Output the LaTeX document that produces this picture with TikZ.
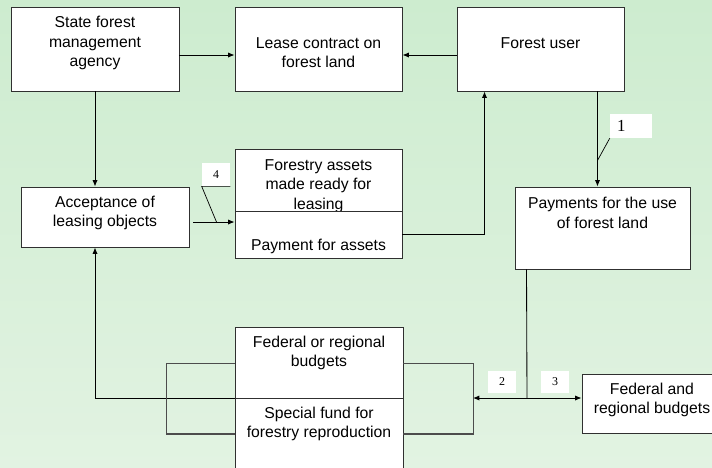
\documentclass[tikz,border=0pt]{standalone}
\usepackage{fontspec}
\setmainfont{Liberation Sans}
\newfontfamily\numfont{Liberation Serif}
\usepackage{tikz}
\usetikzlibrary{arrows.meta, calc, fit}

\definecolor{bgtop}{HTML}{CDECCF}
\definecolor{bgmid}{HTML}{F6FBF6}
\definecolor{bgbot}{HTML}{E2F3E2}
\definecolor{edge}{HTML}{303030}

\begin{document}
\begin{tikzpicture}[
    x=0.025cm, y=-0.025cm,
    block/.style = {draw=edge, line width=0.7pt, fill=white, inner sep=0pt},
    txt/.style = {align=center, inner sep=0pt, font=\fontsize{11.2}{13.8}\selectfont},
    line/.style = {line width=0.6pt},
    arrow/.style = {line, -{Latex[length=1.6mm, width=1.3mm]}},
    twoway/.style = {line, {Latex[length=1.6mm, width=1.3mm]}-{Latex[length=1.6mm, width=1.3mm]}},
    bracket/.style = {draw=black!70, line width=1pt},
    numbox/.style = {fill=white, inner sep=0pt, font=\numfont\fontsize{8.5}{9}\selectfont}
  ]

  \useasboundingbox (0,0) rectangle (712,468);
  \shade[top color=bgtop, middle color=bgmid, bottom color=bgbot] (0,0) rectangle (712,468);

  % Nodes
  \node[block, fit={(11,7) (179,91)}] (agency) {};
  \node[txt] (agencytxt) at (95,43) {State forest\\management\\agency};

  \node[block, fit={(235,7) (402,91)}] (lease) {};
  \node[txt] (leasetxt) at (318.5,52.5) {Lease contract on\\forest land};

  \node[block, fit={(457,7) (624,91)}] (user) {};
  \node[txt] (usertxt) at (540.5,43) {Forest user};

  \node[block, fit={(21,187) (189,247)}] (accept) {};
  \node[txt] (accepttxt) at (105,213) {Acceptance of\\leasing objects};

  \node[block, fit={(235,149) (402,220)}] (assets) {};
  \node[txt] (assetstxt) at (318.5,186) {Forestry assets\\made ready for\\leasing};

  \node[block, fit={(235,211) (402,258)}] (pay) {};
  \node[txt] (paytxt) at (318.5,246) {Payment for assets};

  \node[block, fit={(515,187) (690,269)}] (payuse) {};
  \node[txt] (payusetxt) at (602.5,213) {Payments for the use\\of forest land};

  \node[block, fit={(235,327) (403,398)}] (fedor) {};
  \node[txt] (fedortxt) at (319,353) {Federal or regional\\budgets};

  \node[block, fit={(235,398) (403,480)}] (fund) {};
  \node[txt] (fundtxt) at (319,424) {Special fund for\\forestry reproduction};

  \node[block, fit={(582,374) (730,433)}] (fedreg) {};
  \node[txt] (fedregtxt) at (652,400) {Federal and\\regional budgets};

  % Number labels
  \node[numbox, minimum width=1.05cm, minimum height=0.6cm, text width=0.7cm, align=left, font=\numfont\fontsize{12}{13}\selectfont] (n1) at (631,126) {1};
  \node[numbox, minimum width=0.7cm, minimum height=0.58cm] (n4) at (216,174.5) {4};
  \node[numbox, minimum width=0.7cm, minimum height=0.55cm] (n2) at (502,382) {2};
  \node[numbox, minimum width=0.7cm, minimum height=0.55cm] (n3) at (555,382) {3};

  \coordinate (fork) at (527,398);
  \coordinate (rbrk) at (473,398);

  % Connectors
  \draw[arrow] ($(agency.east)+(0,6)$) -- ($(lease.west)+(0,6)$);
  \draw[arrow] ($(user.west)+(0,6)$) -- ($(lease.east)+(0,6)$);
  \draw[arrow] (agency.south) -- (agency.south |- accept.north);
  \draw[arrow] ($(accept.east)+(4,5)$) coordinate (a4) -- (a4 -| pay.west);
  \draw[arrow] ($(pay.east)+(0,-0.5)$) -| ($(user.south west)+(28,0)$);
  \draw[arrow] ($(user.south east)+(-27,0)$) coordinate (d1) -- (d1 |- payuse.north);
  \draw[line] ($(payuse.south west)+(12,0)$) -- (fork);
  \draw[twoway] (rbrk) -- (fedreg.west |- fork);
  \draw[arrow] (fedor.south west) -| (agency.south |- accept.south);

  % Brackets round the budgets
  \draw[bracket] ($(fedor.west)+(0,1)$) -| ($(fund.west)+(-68,-5)$) -- ($(fund.west)+(0,-5)$);
  \draw[bracket] ($(fedor.east)+(0,1)$) -| ($(fund.east)+(70,-5)$) -- ($(fund.east)+(0,-5)$);

  % Leaders of the labels
  \draw[line width=0.5pt] (n1.south west) -- ($(d1)+(0,69)$);
  \draw[line width=0.5pt] (n4.south east) -- (n4.south west) -- ($(a4)+(23,0)$);
\end{tikzpicture}
\end{document}
